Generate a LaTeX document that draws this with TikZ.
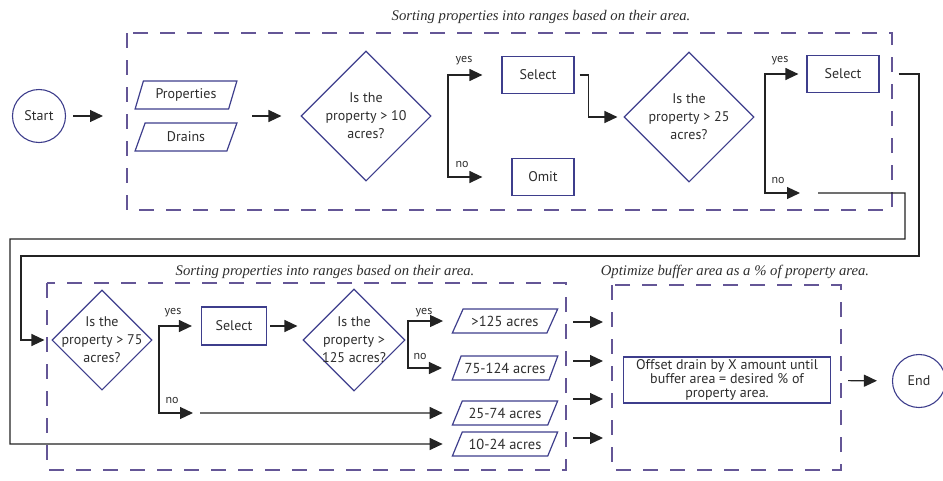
\documentclass[tikz,border=0pt]{standalone}
\usepackage{fontspec}
\setmainfont{PT Sans}
\newfontfamily\titlefont{Liberation Serif}
\usepackage{tikz}
\usetikzlibrary{arrows.meta,shapes.geometric}

\definecolor{shapecol}{RGB}{62,62,140}
\definecolor{dashcol}{RGB}{100,86,150}
\definecolor{linecol}{RGB}{35,35,35}
\definecolor{textcol}{RGB}{45,45,45}

\begin{document}
\begin{tikzpicture}[x=1pt, y=-1pt,
	font=\fontsize{14}{17}\selectfont, text=textcol,
	arr/.style={-{Triangle[length=13pt,width=12pt]}, line width=1.2pt, draw=linecol},
	terminal/.style={circle, draw=shapecol, line width=1.1pt, minimum size=53pt, inner sep=0pt},
	process/.style={rectangle, draw=shapecol, line width=1.2pt, minimum width=72pt, minimum height=37pt},
	dataio/.style={trapezium, trapezium left angle=65, trapezium right angle=115, trapezium stretches=true,
		draw=shapecol, line width=1.2pt, minimum width=102pt, minimum height=28pt, inner sep=0pt},
	rangebox/.style={dataio, trapezium left angle=58, trapezium right angle=122, minimum width=106pt,
		minimum height=24pt, inner xsep=-8pt, font=\fontsize{14.5}{17}\selectfont},
	decision/.style={diamond, aspect=1, draw=shapecol, line width=1.1pt, minimum size=130pt, inner sep=-16pt,
		align=center, font=\fontsize{14}{18}\selectfont},
	group/.style={draw=dashcol, line width=1.3pt, dash pattern=on 15pt off 12pt},
	grouptitle/.style={font=\titlefont\itshape\fontsize{14.7}{16}\selectfont},
	branch/.style={font=\fontsize{12}{13}\selectfont}
]

	% ---- frame

	\useasboundingbox (0,0) rectangle (943,480);

	% ---- groups

	\draw[group] (127,33) rectangle (892,210);
	\draw[group] (47,283) rectangle (566,470);
	\draw[group] (612,285) rectangle (841,470);

	\node[grouptitle] (tA) at (541,17) {Sorting properties into ranges based on their area.};
	\node[grouptitle] (tB) at (325,272) {Sorting properties into ranges based on their area.};
	\node[grouptitle] (tC) at (735,272) {Optimize buffer area as a \% of property area.};

	% ---- top row

	\node[terminal] (start) at (39,116) {Start};
	\node[dataio] (props) at (186,95) {Properties};
	\node[dataio] (drains) at (186,137) {Drains};
	\node[decision] (q10) at (366,116) {Is the\\property > 10\\acres?};
	\node[process] (sel1) at (538,75) {Select};
	\node[process, minimum width=62pt] (omit) at (543,177) {Omit};
	\node[decision] (q25) at (689,117) {Is the\\property > 25\\acres?};
	\node[process] (sel2) at (843,74) {Select};

	% ---- bottom row

	\node[decision, minimum size=100pt] (q75) at (102,340) {Is the\\property > 75\\acres?};
	\node[process, minimum width=65pt, minimum height=38pt] (sel3) at (234,326) {Select};
	\node[decision, minimum size=102pt] (q125) at (354,340) {Is the\\property >\\125 acres?};

	\node[rangebox] (r125) at (505,321) {>125 acres};
	\node[rangebox] (r75) at (505,368) {75-124 acres};
	\node[rangebox] (r25) at (505,413) {25-74 acres};
	\node[rangebox] (r10) at (505,444) {10-24 acres};

	\node[process, minimum width=207pt, minimum height=46pt, align=center, inner sep=1pt,
		font=\fontsize{14}{14}\selectfont] (offset) at (727,380)
		{Offset drain by X amount until\\buffer area = desired \% of\\property area.};
	\node[terminal] (end) at (919,381) {End};

	% ---- junctions

	\coordinate (in1) at (103,116);
	\coordinate (out1) at (252,116);
	\coordinate (j10) at (448,116);
	\coordinate (j25) at (765,117);
	\coordinate (no25) at (800,193);
	\coordinate (no25s) at (818,193);
	\coordinate (j75) at (159,340);
	\coordinate (no75) at (193,413);
	\coordinate (no75s) at (200,413);
	\coordinate (j125) at (408,345);

	% ---- connectors

	\draw[arr, shorten <=7pt] (start) -- (in1);
	\draw[arr, shorten >=19pt] (out1) -- (q10);

	\draw[arr, shorten >=19pt] (j10) |- (sel1);
	\draw[arr, shorten >=29pt] (j10) |- (omit);
	\draw[arr, shorten >=6pt] ([xshift=5pt]sel1.east) -- ++(9,0) |- (q25);

	\draw[arr, shorten >=8pt] (j25) |- (sel2);
	\draw[arr] (j25) |- (no25);

	\draw[arr, shorten >=14pt] (no25s) -| (905,239) -| (10,444) -- (r10);
	\draw[arr, shorten <=19pt, shorten >=7pt] (sel2.east) -| (919,256) -| (21,340) -- (q75);

	\draw[arr, shorten >=9pt] (j75) |- (sel3);
	\draw[arr] (j75) |- (no75);
	\draw[arr, shorten >=14pt] (no75s) -- (r25);
	\draw[arr, shorten <=3pt, shorten >=5pt] (sel3.east) -- (sel3.east -| q125.west);

	\draw[arr, shorten >=14pt] (j125) |- (r125);
	\draw[arr, shorten >=14pt] (j125) |- (r75);

	\foreach \y [count=\i] in {322,361,399,438} {
		\coordinate (o\i) at (573,\y);
		\coordinate (p\i) at (603,\y);
		\draw[arr] (o\i) -- (p\i);
	}

	\draw[arr, shorten <=17pt, shorten >=15pt] (offset) -- (end);

	% ---- branch labels

	\node[branch] (y10) at (464,61) {yes};
	\node[branch] (n10) at (462,164) {no};
	\node[branch] (y25) at (780,61) {yes};
	\node[branch] (n25) at (778,180) {no};
	\node[branch] (y75) at (173,313) {yes};
	\node[branch] (n75) at (172,400) {no};
	\node[branch] (y125) at (424,313) {yes};
	\node[branch] (n125) at (420,356) {no};

\end{tikzpicture}
\end{document}
